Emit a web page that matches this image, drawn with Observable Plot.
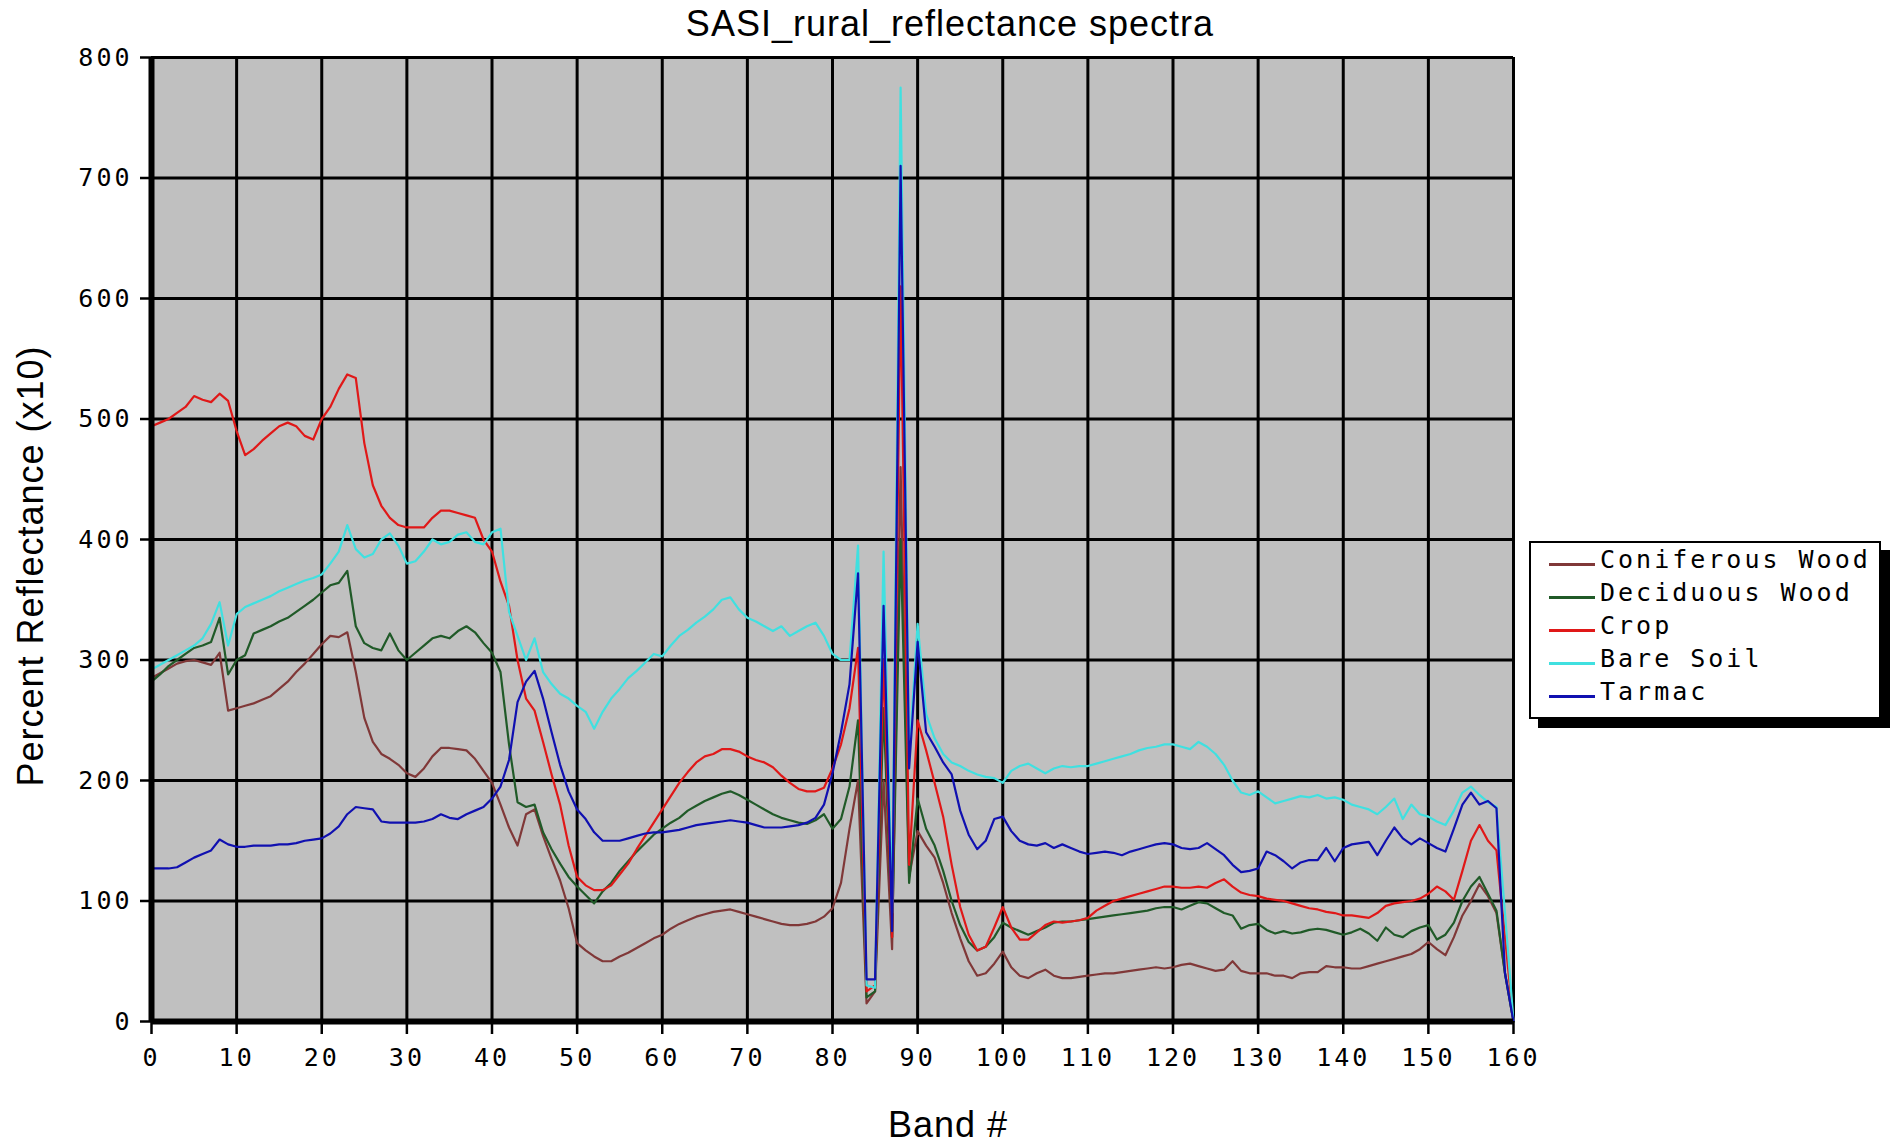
<!DOCTYPE html>
<html>
<head>
<meta charset="utf-8">
<script src="https://cdn.jsdelivr.net/npm/d3@7"></script>
<script src="https://cdn.jsdelivr.net/npm/@observablehq/plot@0.6"></script>
<style>
  html, body { margin: 0; padding: 0; background: #fff; }
  #wrap { position: relative; width: 1894px; height: 1144px; overflow: hidden; }
  #chart { position: absolute; left: 0; top: 0; }
  .lbl { position: absolute; font-family: "Liberation Sans", Arial, sans-serif; font-size: 36px; line-height: 36px; letter-spacing: 1px; color: #000; white-space: nowrap; }
  #title { left: 950px; top: 6px; transform: translateX(-50%); }
  #xlabel { left: 948px; top: 1110px; line-height: 30px; transform: translateX(-50%); }
  #ylabel { left: 31px; top: 566px; transform: translate(-50%, -50%) rotate(-90deg); }
  #legend { position: absolute; left: 1529px; top: 541px; width: 348px; height: 174px; border: 2px solid #000; background: #fff; box-shadow: 9px 9px 0 0 #000; }
  .lg-row { position: absolute; left: 69px; height: 33px; line-height: 33px; font-family: "DejaVu Sans Mono", monospace; font-size: 25px; letter-spacing: 3px; color: #000; white-space: nowrap; }
  .lg-sw { position: absolute; left: 18px; width: 46px; height: 3px; }
  g[aria-label="x-axis tick label"], g[aria-label="y-axis tick label"] { letter-spacing: 3px; }
</style>
</head>
<body>
<div id="wrap">
  <div id="chart"></div>
  <div id="title" class="lbl"></div>
  <div id="xlabel" class="lbl"></div>
  <div id="ylabel" class="lbl"></div>
  <div id="legend"></div>
</div>
<script>
// ---- chart data ----
const titleText = "SASI_rural_reflectance spectra";
const xLabelText = "Band #";
const yLabelText = "Percent Reflectance (x10)";

const seriesNames = ["Coniferous Wood", "Deciduous Wood", "Crop", "Bare Soil", "Tarmac"];
const seriesColors = ["#803838", "#205a28", "#e01818", "#40e0e0", "#1010b0"];

const xTicks = [0, 10, 20, 30, 40, 50, 60, 70, 80, 90, 100, 110, 120, 130, 140, 150, 160];
const yTicks = [0, 100, 200, 300, 400, 500, 600, 700, 800];

// values for bands 0..160
const coniferousWood = [
  285, 289, 293, 297, 299, 300, 298, 296, 306, 258,
  260, 262, 264, 267, 270, 276, 282, 290, 297, 305,
  313, 320, 319, 323, 290, 252, 232, 222, 218, 213,
  206, 203, 210, 220, 227, 227, 226, 225, 218, 208,
  198, 180, 161, 146, 172, 176, 154, 135, 117, 94,
  65, 59, 54, 50, 50, 54, 57, 61, 65, 69,
  72, 77, 81, 84, 87, 89, 91, 92, 93, 91,
  89, 87, 85, 83, 81, 80, 80, 81, 83, 87,
  94, 115, 160, 200, 15, 25, 200, 60, 460, 120,
  158, 146, 136, 115, 90, 69, 50, 38, 40, 48,
  58, 45, 38, 36, 40, 43, 38, 36, 36, 37,
  38, 39, 40, 40, 41, 42, 43, 44, 45, 44,
  45, 47, 48, 46, 44, 42, 43, 50, 42, 40,
  40, 40, 38, 38, 36, 40, 41, 41, 46, 45,
  45, 44, 44, 46, 48, 50, 52, 54, 56, 60,
  66, 60, 55, 70, 88, 100, 114, 104, 90, 40,
  0
];
const deciduousWood = [
  282, 288, 295, 300, 305, 310, 312, 315, 335, 288,
  300, 304, 322, 325, 328, 332, 335, 340, 345, 350,
  356, 362, 364, 374, 328, 314, 310, 308, 322, 308,
  300, 306, 312, 318, 320, 318, 324, 328, 323, 314,
  306, 290, 230, 182, 178, 180, 157, 143, 131, 120,
  112, 105, 98, 108, 115, 125, 133, 141, 148, 155,
  160, 165, 169, 175, 179, 183, 186, 189, 191, 188,
  184, 180, 176, 172, 169, 167, 165, 164, 167, 172,
  160, 168, 195, 250, 20, 25, 260, 70, 400, 115,
  185, 160, 146, 125, 100, 80, 66, 59, 62, 70,
  82, 78, 75, 72, 75, 78, 82, 83, 83, 84,
  85, 86, 87, 88, 89, 90, 91, 92, 94, 95,
  95, 93, 96, 99, 98, 94, 90, 88, 77, 80,
  81, 76, 73, 75, 73, 74, 76, 77, 76, 74,
  72, 74, 77, 73, 67, 78, 72, 70, 75, 78,
  80, 68, 72, 82, 100, 112, 120, 106, 92, 40,
  0
];
const crop = [
  494, 497, 500, 505, 510, 519, 516, 514, 521, 515,
  490, 470, 475, 482, 488, 494, 497, 494, 486, 483,
  500, 510, 525, 537, 534, 480, 445, 428, 418, 412,
  410, 410, 410, 418, 424, 424, 422, 420, 418, 400,
  390, 365, 345, 300, 268, 258, 232, 205, 180, 146,
  120, 113, 109, 109, 113, 122, 131, 143, 154, 165,
  176, 187, 198, 207, 215, 220, 222, 226, 226, 224,
  220, 217, 215, 211, 204, 198, 193, 191, 191, 194,
  210, 230, 260, 310, 25, 30, 300, 70, 610, 130,
  250, 225, 198, 170, 130, 95, 72, 59, 62, 78,
  95, 78, 68, 68, 74, 80, 83, 82, 83, 84,
  86, 92, 96, 100, 102, 104, 106, 108, 110, 112,
  112, 111, 111, 112, 111, 115, 118, 112, 107, 105,
  104, 102, 101, 100, 98, 96, 94, 93, 91, 90,
  88, 88, 87, 86, 90, 96, 98, 99, 100, 102,
  106, 112, 108, 101, 125, 150, 163, 150, 142, 70,
  0
];
const bareSoil = [
  292, 296, 300, 304, 308, 312, 318, 330, 348, 312,
  338, 344, 347, 350, 353, 357, 360, 363, 366, 368,
  371, 380, 390, 412, 392, 385, 388, 400, 405, 395,
  380, 382, 390, 400, 396, 398, 404, 406, 398, 396,
  406, 409, 340, 320, 300, 318, 290, 280, 272, 268,
  262, 257, 243, 257, 268, 276, 285, 291, 298, 305,
  303, 312, 320, 325, 331, 336, 342, 350, 352, 342,
  335, 332, 328, 324, 328, 320, 324, 328, 331, 320,
  305, 300, 300, 395, 30, 28, 390, 90, 775, 220,
  330, 255, 235, 222, 215, 212, 208, 205, 203, 202,
  198, 208, 212, 214, 210, 206, 210, 212, 211, 212,
  212, 214, 216, 218, 220, 222, 225, 227, 228, 230,
  230, 228, 226, 232, 228, 222, 213, 200, 190, 188,
  191, 186, 181, 183, 185, 187, 186, 188, 185, 186,
  184, 180, 178, 176, 172, 178, 185, 168, 180, 172,
  170, 166, 163, 175, 190, 195, 188, 182, 178, 90,
  0
];
const tarmac = [
  127, 127, 127, 128, 132, 136, 139, 142, 151, 147,
  145, 145, 146, 146, 146, 147, 147, 148, 150, 151,
  152, 156, 162, 172, 178, 177, 176, 166, 165, 165,
  165, 165, 166, 168, 172, 169, 168, 172, 175, 178,
  185, 195, 217, 265, 282, 291, 268, 240, 213, 191,
  176, 168, 157, 150, 150, 150, 152, 154, 156, 157,
  157, 158, 159, 161, 163, 164, 165, 166, 167, 166,
  165, 163, 161, 161, 161, 162, 163, 165, 169, 180,
  206, 240, 280, 372, 35, 35, 345, 75, 710, 210,
  315, 240, 228, 215, 205, 175, 155, 143, 150, 168,
  170, 158, 150, 147, 146, 148, 144, 147, 144, 141,
  139, 140, 141, 140, 138, 141, 143, 145, 147, 148,
  147, 144, 143, 144, 148, 143, 138, 130, 124, 125,
  127, 141, 138, 133, 127, 132, 134, 134, 144, 133,
  144, 147, 148, 149, 138, 150, 161, 152, 147, 152,
  148, 144, 141, 160, 180, 190, 180, 183, 177, 40,
  0
];
const seriesValues = [coniferousWood, deciduousWood, crop, bareSoil, tarmac];

// ---- build table ----
const rows = seriesNames.flatMap((name, i) =>
  seriesValues[i].map((v, band) => ({band, value: v, series: name}))
);

const axisFont = {fontFamily: "DejaVu Sans Mono", fontSize: 25};

const chart = Plot.plot({
  width: 1894,
  height: 1144,
  marginLeft: 151,
  marginRight: 381,
  marginTop: 57,
  marginBottom: 123,
  style: {background: "transparent", color: "#000", fontFamily: "DejaVu Sans Mono", fontSize: "25px"},
  x: {domain: [0, 160], label: null},
  y: {domain: [0, 800], label: null},
  color: {domain: seriesNames, range: seriesColors},
  marks: [
    Plot.frame({fill: "#c0c0c0", stroke: "none"}),
    Plot.ruleX(xTicks, {stroke: "#000", strokeWidth: 3}),
    Plot.ruleY(yTicks, {stroke: "#000", strokeWidth: 3}),
    Plot.line(rows, {x: "band", y: "value", z: "series", stroke: "series", strokeWidth: 2.2}),
    Plot.ruleX([0], {stroke: "#000", strokeWidth: 6}),
    Plot.ruleY([0], {stroke: "#000", strokeWidth: 6}),
    Plot.axisX({ticks: xTicks, tickSize: 13, tickPadding: 14, strokeWidth: 2.5, tickFormat: d => String(d), label: null, ...axisFont}),
    Plot.axisY({ticks: yTicks, tickSize: 11, tickPadding: 8, strokeWidth: 2.5, tickFormat: d => String(d), label: null, ...axisFont})
  ]
});
document.getElementById("chart").appendChild(chart);

document.getElementById("title").textContent = titleText;
document.getElementById("xlabel").textContent = xLabelText;
document.getElementById("ylabel").textContent = yLabelText;

// ---- legend ----
const legend = document.getElementById("legend");
seriesNames.forEach((name, i) => {
  const row = document.createElement("div");
  row.className = "lg-row";
  row.style.top = (i * 33) + "px";
  row.textContent = name;
  legend.appendChild(row);
  const sw = document.createElement("div");
  sw.className = "lg-sw";
  sw.style.background = seriesColors[i];
  sw.style.top = (i * 33 + 20) + "px";
  legend.appendChild(sw);
});
</script>
</body>
</html>
